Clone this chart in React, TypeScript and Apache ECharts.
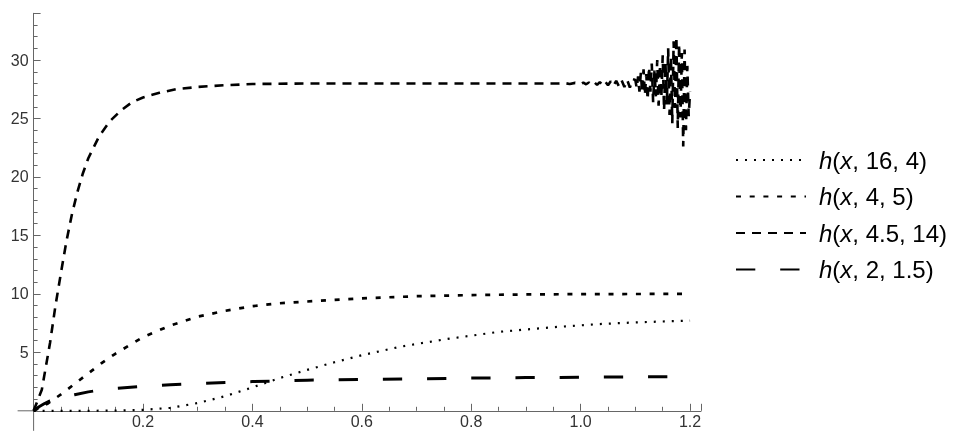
import React, { useEffect, useRef } from "react";
import * as echarts from "echarts";

// Tick labels
const xTickValues = [0.2, 0.4, 0.6, 0.8, 1.0, 1.2];
const yTickValues = [5, 10, 15, 20, 25, 30];

// Series names
const seriesNames = ["h(x, 16, 4)", "h(x, 4, 5)", "h(x, 4.5, 14)", "h(x, 2, 1.5)"];

// h(x, 16, 4)  (fine dotted)
const xC = [0, 0.1, 0.15, 0.2, 0.25, 0.3, 0.35, 0.4, 0.45, 0.5, 0.55, 0.6, 0.67, 0.75, 0.85, 0.95, 1.035, 1.1, 1.2];
const yC = [0, 0, 0.02, 0.08, 0.25, 0.66, 1.25, 2.0, 2.8, 3.5, 4.15, 4.75, 5.48, 6.1, 6.75, 7.15, 7.42, 7.56, 7.72];

// h(x, 4, 5)  (dotted)
const xB = [0, 0.025, 0.05, 0.075, 0.1, 0.125, 0.15, 0.175, 0.2, 0.25, 0.3, 0.35, 0.4, 0.45, 0.5, 0.6, 0.7, 0.8, 0.9, 1.0, 1.2];
const yB = [0, 0.6, 1.4, 2.3, 3.2, 4.1, 4.9, 5.6, 6.3, 7.3, 8.05, 8.55, 8.95, 9.2, 9.35, 9.62, 9.8, 9.9, 9.95, 9.98, 10];

// h(x, 4.5, 14)  (dashed, numerically noisy near the right end)
const xA = [
  0, 0.015, 0.03, 0.04, 0.05, 0.06, 0.07, 0.08, 0.09, 0.1, 0.12, 0.14, 0.16, 0.18, 0.2, 0.23, 0.26, 0.3, 0.35, 0.4, 0.5,
  0.6, 0.7, 0.8, 0.9, 0.96, 0.97, 0.98, 0.99, 1.0, 1.005, 1.01, 1.015, 1.02, 1.025, 1.03, 1.035, 1.04, 1.045, 1.05,
  1.055, 1.06, 1.065, 1.07, 1.075, 1.08, 1.085, 1.09, 1.095,
  1.1, 1.1025, 1.105, 1.1075, 1.11, 1.1125, 1.115, 1.1175, 1.12, 1.1225, 1.125, 1.1275, 1.13, 1.1325, 1.135, 1.1375,
  1.14, 1.1425, 1.145, 1.1475, 1.15, 1.1525, 1.155, 1.1575, 1.16, 1.1625, 1.165, 1.1675, 1.17, 1.1725, 1.175, 1.1775,
  1.18, 1.1825, 1.185, 1.1875, 1.19, 1.1925, 1.195, 1.1975, 1.2,
];
const yA = [
  0, 1.8, 5.8, 9, 11.8, 14.5, 16.8, 18.7, 20.3, 21.6, 23.5, 24.8, 25.7, 26.4, 26.8, 27.2, 27.5, 27.7, 27.85, 27.95, 28,
  28, 28, 28, 28, 28, 28.04, 27.96, 28.05, 27.94, 28.07, 27.93, 28.08, 27.9, 28.1, 27.88, 28.12, 27.86, 28.15, 27.84,
  28.18, 27.8, 28.22, 27.76, 28.26, 27.7, 28.3, 27.65, 28.38,
  28.3, 27.6, 28.6, 27.3, 28.9, 27.2, 29.2, 27.0, 28.8, 26.6, 29.4, 27.3, 29.7, 26.4, 29.1, 26.9,
  30.0, 26.1, 29.6, 26.8, 30.4, 25.7, 29.8, 26.2, 31.0, 25.3, 30.3, 24.6, 31.6, 25.9, 32.0, 24.2,
  31.4, 25.1, 30.6, 22.6, 30.9, 24.0, 29.5, 25.2, 27.3,
];

// h(x, 2, 1.5)  (long dashed)
const xD = [0, 0.01, 0.02, 0.03, 0.05, 0.075, 0.1, 0.125, 0.15, 0.2, 0.25, 0.3, 0.35, 0.4, 0.5, 0.6, 0.7, 0.8, 0.9, 1.0, 1.1, 1.2];
const yD = [0, 0.35, 0.62, 0.85, 1.12, 1.38, 1.62, 1.8, 1.92, 2.1, 2.22, 2.33, 2.42, 2.5, 2.62, 2.69, 2.74, 2.8, 2.84, 2.87, 2.9, 2.92];

const pair = (xs: number[], ys: number[]) => xs.map((x, i) => [x, ys[i]]);

const AXIS_COLOR = "#666";
const FONT = "'Liberation Sans', Arial, sans-serif";

export default function App() {
  const ref = useRef<HTMLDivElement>(null);
  useEffect(() => {
    const chart = echarts.init(ref.current!, null, { renderer: "svg" });
    const mk = (name: string, data: number[][], dash: number[], width: number) => ({
      name,
      type: "line",
      data,
      symbol: "none",
      showSymbol: false,
      clip: true,
      lineStyle: { color: "#000", width, type: dash, cap: "butt" },
      itemStyle: { color: "#000" },
      emphasis: { disabled: true },
    });
    chart.setOption({
      animation: false,
      grid: { left: 33.6, right: 254, top: 13.3, bottom: 24.2, containLabel: false },
      xAxis: {
        type: "value",
        min: 0,
        max: 1.22,
        interval: 0.2,
        axisLine: { show: true, onZero: false, lineStyle: { color: AXIS_COLOR, width: 1 } },
        axisTick: { show: true, inside: true, length: 7, lineStyle: { color: AXIS_COLOR } },
        minorTick: { show: true, splitNumber: 4, length: 4, lineStyle: { color: AXIS_COLOR } },
        splitLine: { show: false },
        axisLabel: {
          showMinLabel: false,
          showMaxLabel: false,
          margin: 3,
          color: "#333",
          fontSize: 16,
          fontFamily: FONT,
          formatter: (v: number) => (xTickValues.some((t) => Math.abs(t - v) < 1e-6) ? v.toFixed(1) : ""),
        },
      },
      yAxis: {
        type: "value",
        min: 0,
        max: 34,
        interval: 5,
        axisLine: { show: true, onZero: false, lineStyle: { color: AXIS_COLOR, width: 1 } },
        axisTick: { show: true, inside: true, length: 7, lineStyle: { color: AXIS_COLOR } },
        minorTick: { show: true, splitNumber: 5, length: 4, lineStyle: { color: AXIS_COLOR } },
        splitLine: { show: false },
        axisLabel: {
          showMinLabel: false,
          showMaxLabel: false,
          margin: 5,
          color: "#333",
          fontSize: 16,
          fontFamily: FONT,
          formatter: (v: number) => (yTickValues.includes(v) ? String(v) : ""),
        },
      },
      legend: {
        orient: "vertical",
        left: 730,
        top: 141,
        itemWidth: 70,
        itemHeight: 14,
        itemGap: 8.5,
        selectedMode: false,
        data: seriesNames,
        itemStyle: { color: "rgba(0,0,0,0)", borderColor: "rgba(0,0,0,0)", borderWidth: 0, opacity: 0 },
        formatter: (name: string) => {
          const m = name.match(/^h\(x(.*)$/);
          return m ? "{i|h}{n|(}{i|x}{n|" + m[1] + "}" : name;
        },
        textStyle: {
          color: "#000",
          fontSize: 24,
          lineHeight: 28,
          fontFamily: FONT,
          padding: [0, 0, 0, 8],
          rich: {
            i: { fontStyle: "italic", fontSize: 24, lineHeight: 28, fontFamily: FONT, color: "#000" },
            n: { fontSize: 24, lineHeight: 28, fontFamily: FONT, color: "#000" },
          },
        },
      },
      series: [
        mk(seriesNames[0], pair(xC, yC), [2, 7], 2.2),
        mk(seriesNames[1], pair(xB, yB), [5, 8.7], 2.7),
        mk(seriesNames[2], pair(xA, yA), [9, 7], 2.6),
        mk(seriesNames[3], pair(xD, yD), [19.3, 24.9], 3),
      ],
    });
    const o = chart.convertToPixel({ gridIndex: 0 }, [0, 0]) as number[];
    chart.setOption({
      graphic: [
        { type: "line", shape: { x1: o[0] - 16, y1: o[1], x2: o[0], y2: o[1] }, style: { stroke: AXIS_COLOR, lineWidth: 1 } },
        { type: "line", shape: { x1: o[0], y1: o[1], x2: o[0], y2: o[1] + 20 }, style: { stroke: AXIS_COLOR, lineWidth: 1 } },
      ],
    });
    return () => chart.dispose();
  }, []);
  return <div ref={ref} style={{ position: "fixed", left: 0, top: 0, width: 955, height: 435 }} />;
}
